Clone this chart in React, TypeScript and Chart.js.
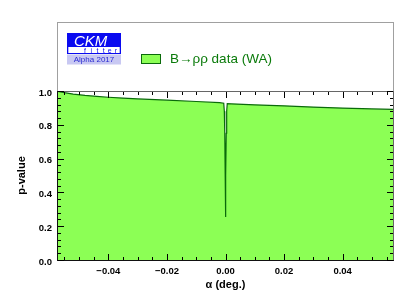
import React, { useEffect, useRef } from 'react';
import { Chart, registerables } from 'chart.js';

Chart.register(...registerables);

// ---- data ----
const alphaDeg = [
  -0.0572, -0.055, -0.052, -0.048, -0.044, -0.04, -0.035, -0.03, -0.02, -0.01, -0.002,
  -0.0006, -0.0004, -0.00025, -0.0001, 0, 0.0001, 0.00025, 0.0004, 0.0006,
  0.002, 0.01, 0.02, 0.03, 0.04, 0.05, 0.0572,
];
const pValue = [
  0.998, 0.99, 0.982, 0.974, 0.968, 0.963, 0.958, 0.953, 0.946, 0.938, 0.931,
  0.928, 0.88, 0.75, 0.5, 0.255, 0.5, 0.75, 0.88, 0.925,
  0.924, 0.918, 0.912, 0.905, 0.899, 0.894, 0.891,
];
const xTickLabels = [-0.04, -0.02, 0, 0.02, 0.04];
const yTickLabels = [0, 0.2, 0.4, 0.6, 0.8, 1.0];
const xMinorTicks = [
  -0.055, -0.05, -0.045, -0.04, -0.035, -0.03, -0.025, -0.02, -0.015, -0.01, -0.005, 0,
  0.005, 0.01, 0.015, 0.02, 0.025, 0.03, 0.035, 0.04, 0.045, 0.05, 0.055,
];
const yMinorTicks = [
  0, 0.04, 0.08, 0.12, 0.16, 0.2, 0.24, 0.28, 0.32, 0.36, 0.4, 0.44, 0.48, 0.52, 0.56, 0.6,
  0.64, 0.68, 0.72, 0.76, 0.8, 0.84, 0.88, 0.92, 0.96, 1.0,
];
const xRange = [-0.0572, 0.0572];
const yRange = [0, 1];
const legendLabel = 'B\u2192\u03c1\u03c1 data (WA)';
const xTitle = '\u03b1 (deg.)';
const yTitle = 'p-value';

const FONT = "'Liberation Sans', Arial, Helvetica, sans-serif";
const FILL = '#8cff55';
const LINE = '#0a6a0a';

const isMajor = (list: number[], v: number) => list.some((t) => Math.abs(t - v) < 1e-9);

const decorPlugin = {
  id: 'decor',
  afterDraw(chart: any) {
    const ctx: CanvasRenderingContext2D = chart.ctx;
    const a = chart.chartArea;
    const xs = chart.scales['x'];
    const ys = chart.scales['y'];
    ctx.save();

    const L = Math.round(a.left), R = Math.round(a.right), T = Math.round(a.top), B = Math.round(a.bottom);

    // outer frame (legend box + plot)
    ctx.fillStyle = '#a0a0a0';
    ctx.fillRect(L - 1, 22, R - L + 2, 1);
    ctx.fillRect(L - 1, 22, 1, B - 22 + 1);
    ctx.fillRect(R, 22, 1, B - 22 + 1);

    // plot frame
    ctx.fillStyle = '#666';
    ctx.fillRect(L - 1, T, R - L + 2, 1);
    ctx.fillRect(R, T, 1, B - T + 1);
    ctx.fillStyle = '#111';
    ctx.fillRect(L - 1, T, 1, B - T + 1);
    ctx.fillRect(L - 1, B, R - L + 2, 1);

    // inward ticks on all four sides
    ctx.fillStyle = '#000';
    for (const v of xMinorTicks) {
      if (v < xRange[0] || v > xRange[1]) continue;
      const len = isMajor(xTickLabels, v) ? 6 : 3;
      const px = Math.round(xs.getPixelForValue(v));
      ctx.fillRect(px, B - len, 1, len);
      ctx.fillRect(px, T + 1, 1, len);
    }
    for (const v of yMinorTicks) {
      const len = isMajor(yTickLabels, v) ? 6 : 3;
      const py = Math.round(ys.getPixelForValue(v));
      ctx.fillRect(L, py, len, 1);
      ctx.fillRect(R - len, py, len, 1);
    }

    // CKMfitter logo
    ctx.fillStyle = '#0a0af0';
    ctx.fillRect(67, 33, 54, 14);
    ctx.fillStyle = '#ffffff';
    ctx.font = `italic 15px ${FONT}`;
    ctx.textBaseline = 'alphabetic';
    ctx.textAlign = 'left';
    ctx.fillText('CKM', 74, 45.5);
    ctx.fillStyle = '#ffffff';
    ctx.fillRect(67, 47, 54, 7);
    ctx.fillStyle = '#0a0af0';
    ctx.fillRect(67, 47, 1.3, 7);
    ctx.fillRect(119.7, 47, 1.3, 7);
    ctx.fillRect(67, 53, 54, 1);
    ctx.font = `7px ${FONT}`;
    ctx.textAlign = 'center';
    const fit = 'fitter';
    for (let i = 0; i < fit.length; i++) {
      ctx.fillText(fit[i], 85 + i * 6.2, 52.8);
    }
    ctx.fillStyle = '#c8c8f2';
    ctx.fillRect(67, 54.5, 54, 10);
    ctx.fillStyle = '#2a2ad0';
    ctx.font = `8px ${FONT}`;
    ctx.fillText('Alpha 2017', 94, 62.3);

    // legend
    ctx.fillStyle = FILL;
    ctx.fillRect(141.5, 54.5, 19, 9);
    ctx.strokeStyle = LINE;
    ctx.lineWidth = 1;
    ctx.strokeRect(141.5, 54.5, 19, 9);
    ctx.fillStyle = '#0a7a0a';
    ctx.font = `13.5px ${FONT}`;
    ctx.textAlign = 'left';
    ctx.fillText(legendLabel, 170, 63.3);

    ctx.restore();
  },
};

export default function App() {
  const ref = useRef<HTMLCanvasElement | null>(null);

  useEffect(() => {
    if (!ref.current) return;
    const points = alphaDeg.map((x, i) => ({ x, y: pValue[i] }));
    const chart = new Chart(ref.current, {
      type: 'line',
      data: {
        datasets: [
          {
            label: legendLabel,
            data: points,
            borderColor: LINE,
            borderWidth: 1.2,
            backgroundColor: FILL,
            fill: 'origin',
            pointRadius: 0,
            tension: 0,
          },
        ],
      },
      options: {
        animation: false,
        responsive: false,
        maintainAspectRatio: false,
        layout: { padding: { top: 91, right: 21, left: 0, bottom: 0 } },
        plugins: { legend: { display: false }, tooltip: { enabled: false } },
        scales: {
          x: {
            type: 'linear',
            position: 'bottom',
            min: xRange[0],
            max: xRange[1],
            grid: { display: false, drawTicks: false, tickLength: 0 },
            border: { display: false },
            afterBuildTicks: (s: any) => {
              s.ticks = xTickLabels.map((v) => ({ value: v }));
            },
            afterFit: (s: any) => {
              s.height = 43;
            },
            ticks: {
              autoSkip: false,
              maxRotation: 0,
              padding: 6,
              color: '#000',
              font: { family: FONT, size: 9.5, weight: 'bold' },
              callback: (v: any) => Number(v).toFixed(2).replace('-', '\u2212'),
            },
            title: {
              display: true,
              text: xTitle,
              color: '#000',
              font: { family: FONT, size: 11, weight: 'bold' },
              padding: { top: 0, bottom: 11 },
            },
          },
          y: {
            type: 'linear',
            position: 'left',
            min: yRange[0],
            max: yRange[1],
            grid: { display: false, drawTicks: false, tickLength: 0 },
            border: { display: false },
            afterBuildTicks: (s: any) => {
              s.ticks = yTickLabels.map((v) => ({ value: v }));
            },
            afterFit: (s: any) => {
              s.width = 58;
            },
            ticks: {
              autoSkip: false,
              padding: 6,
              labelOffset: 2,
              color: '#000',
              font: { family: FONT, size: 9.5, weight: 'bold' },
              callback: (v: any) => Number(v).toFixed(1),
            },
            title: {
              display: true,
              text: yTitle,
              color: '#000',
              font: { family: FONT, size: 11, weight: 'bold' },
              padding: { top: 15, bottom: 0 },
            },
          },
        },
      },
      plugins: [decorPlugin],
    });
    return () => chart.destroy();
  }, []);

  return (
    <div style={{ position: 'fixed', left: 0, top: 0, width: 414, height: 303, background: '#fff' }}>
      <canvas ref={ref} width={414} height={303} style={{ display: 'block', width: 414, height: 303 }} />
    </div>
  );
}
